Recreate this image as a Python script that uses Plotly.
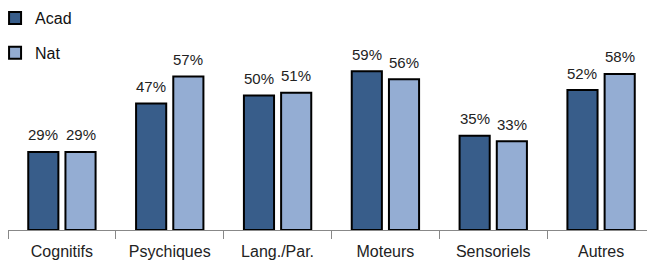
import plotly.graph_objects as go

categories = ["Cognitifs", "Psychiques", "Lang./Par.", "Moteurs", "Sensoriels", "Autres"]
acad = [29, 47, 50, 59, 35, 52]
nat = [29, 57, 51, 56, 33, 58]

FONT = "Liberation Sans"
fig = go.Figure()
series = [("Acad", acad, "#385D8A", "a", -18.6), ("Nat", nat, "#94ADD3", "b", 18.6)]
for name, vals, color, grp, dx in series:
    fig.add_trace(go.Bar(
        x=categories, y=vals, name=name, legendgroup=grp,
        marker=dict(color=color, line=dict(color="#000000", width=2)),
    ))
    for c, v in zip(categories, vals):
        fig.add_annotation(x=c, y=v, text=f"{v}%", showarrow=False,
                           xshift=dx, yshift=17, yanchor="middle",
                           font=dict(size=15, color="#222222", family=FONT))

# page body has an 8px margin, so the figure is sized/offset to compensate
fig.update_layout(
    width=647, height=255,
    margin=dict(l=0, r=0, t=22, b=33, autoexpand=False),
    paper_bgcolor="white", plot_bgcolor="white",
    barmode="group", bargap=0.31, bargroupgap=0.19,
    font=dict(family=FONT, size=14, color="#222222"),
    showlegend=True,
    legend=dict(x=-0.02, y=1.145, xref="paper", yref="paper",
                xanchor="left", yanchor="top",
                font=dict(size=16, color="#111111", family=FONT),
                tracegroupgap=11, bgcolor="rgba(0,0,0,0)"),
)
fig.update_xaxes(
    showline=True, linecolor="#888888", linewidth=1,
    ticks="outside", tickson="boundaries", ticklen=8, tickcolor="#888888",
    tickfont=dict(size=16, color="#222222", family=FONT),
    ticklabelstandoff=7, automargin=False,
    showgrid=False,
)
fig.update_yaxes(visible=False, range=[0, 74.3], showgrid=False)

fig.write_html("out.html")
